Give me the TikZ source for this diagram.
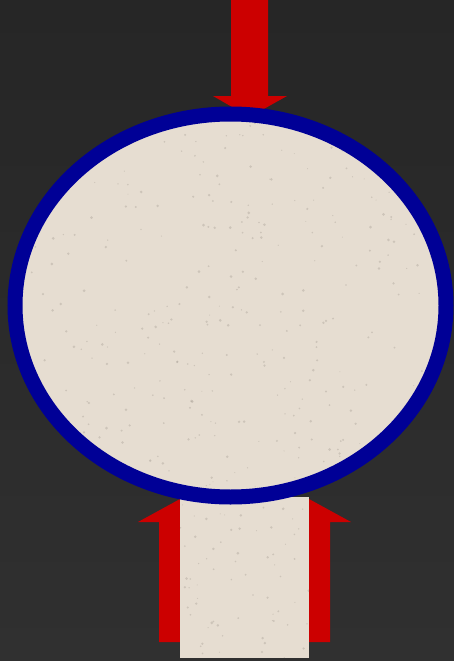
\documentclass[tikz,border=0pt]{standalone}
\usetikzlibrary{shadings}
\definecolor{bgtop}{HTML}{262626}
\definecolor{bgbot}{HTML}{303030}
\definecolor{arrred}{HTML}{CC0000}
\definecolor{rimblue}{HTML}{000096}
\definecolor{paper}{HTML}{E6DDD1}
\definecolor{speck}{HTML}{948C82}
\tikzset{
  redarrow/.style={fill=arrred,draw=none},
  paperfill/.style={fill=paper,draw=none},
  rim/.style={draw=rimblue,line width=15pt}
}
\begin{document}
\begin{tikzpicture}[x=1pt,y=-1pt]
\useasboundingbox (0,0) rectangle (454,661);
\shade[top color=bgtop,bottom color=bgbot] (0,0) rectangle (454,661);
% top arrow pointing down
\fill[redarrow] (231,0) -- (268,0) -- (268,96) -- (287,96) -- (249.5,117) -- (213,96) -- (231,96) -- cycle;
% left arrow pointing up
\fill[redarrow] (159,642) -- (159,522) -- (138,522) -- (180,499) -- (222,522) -- (201,522) -- (201,642) -- cycle;
% right arrow pointing up
\fill[redarrow] (288,642) -- (288,522) -- (267,522) -- (309,499) -- (351,522) -- (330,522) -- (330,642) -- cycle;
% stem rectangle
\fill[paperfill] (180,497) rectangle (309,658);
\begin{scope}
\clip (180,497) rectangle (309,658);
\pgfmathsetseed{7}
\foreach \i in {1,...,70}{
  \pgfmathsetmacro{\px}{180+129*rnd}
  \pgfmathsetmacro{\py}{497+161*rnd}
  \pgfmathsetmacro{\pr}{0.5+1.0*rnd}
  \fill[speck,opacity=0.3] (\px,\py) circle[radius=\pr];
}
\end{scope}
% ellipse body
\fill[paperfill] (230.5,305.5) ellipse[x radius=215.5,y radius=191.5];
\begin{scope}
\clip (230.5,305.5) ellipse[x radius=215.5,y radius=191.5];
\pgfmathsetseed{3}
\foreach \i in {1,...,360}{
  \pgfmathsetmacro{\px}{15+431*rnd}
  \pgfmathsetmacro{\py}{114+383*rnd}
  \pgfmathsetmacro{\pr}{0.5+1.0*rnd}
  \fill[speck,opacity=0.3] (\px,\py) circle[radius=\pr];
}
\end{scope}
\draw[rim] (230.5,305.5) ellipse[x radius=215.5,y radius=191.5];
\end{tikzpicture}
\end{document}
